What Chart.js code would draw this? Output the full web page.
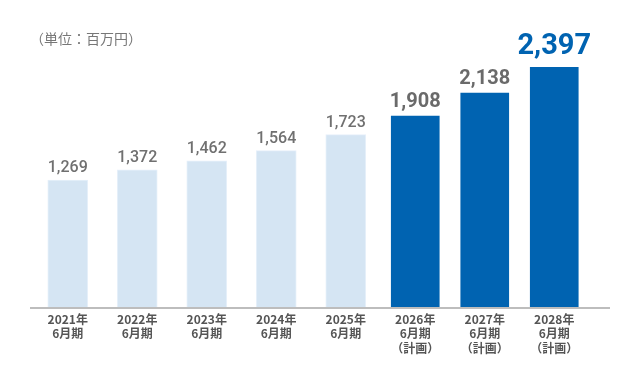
<!DOCTYPE html>
<html>
<head>
<meta charset="utf-8">
<script src="https://cdn.jsdelivr.net/npm/chart.js@4"></script>
<style>
  html, body { margin: 0; padding: 0; background: #fff; }
  #wrap { position: relative; width: 640px; height: 380px; }
  #unit { position: absolute; left: 30px; top: 28px; font: 14px "Noto Sans CJK JP", sans-serif; color: #777; }
</style>
</head>
<body>
<div id="wrap">
  <canvas id="chart" width="640" height="380"></canvas>
  <div id="unit">（単位：百万円）</div>
</div>
<script>
const labels = [
    ['2021年', '6月期'],
    ['2022年', '6月期'],
    ['2023年', '6月期'],
    ['2024年', '6月期'],
    ['2025年', '6月期'],
    ['2026年', '6月期', '（計画）'],
    ['2027年', '6月期', '（計画）'],
    ['2028年', '6月期', '（計画）']
];
const actual = [1269, 1372, 1462, 1564, 1723, null, null, null];
const plan = [null, null, null, null, null, 1908, 2138, 2397];

const lightBlue = '#d5e5f3';
const darkBlue = '#0063b1';

// draws the value over every bar
const valueLabels = {
    id: 'valueLabels',
    afterDatasetsDraw(chart) {
        const ctx = chart.ctx;
        ctx.save();
        ctx.textAlign = 'center';
        ctx.textBaseline = 'bottom';
        chart.data.datasets.forEach((ds, di) => {
            const meta = chart.getDatasetMeta(di);
            meta.data.forEach((bar, i) => {
                const v = ds.data[i];
                if (v == null) return;
                const text = v.toLocaleString('en-US');
                if (di === 0) {
                    ctx.font = '500 16px Roboto';
                    ctx.fillStyle = '#707070';
                    ctx.fillText(text, bar.x, bar.y - 4);
                } else if (i === ds.data.length - 1) {
                    ctx.font = 'bold 29px Roboto';
                    ctx.fillStyle = darkBlue;
                    ctx.fillText(text, bar.x, bar.y - 6);
                } else {
                    ctx.font = 'bold 20px Roboto';
                    ctx.fillStyle = '#6a6a6a';
                    ctx.fillText(text, bar.x, bar.y - 4);
                }
            });
        });
        // base line across the full width
        const y = chart.scales.y.getPixelForValue(0);
        ctx.fillStyle = '#bdbdbd';
        ctx.fillRect(30, y, 580, 2);
        ctx.restore();
    }
};

new Chart(document.getElementById('chart'), {
    type: 'bar',
    data: {
        labels: labels,
        datasets: [{
            data: actual,
            backgroundColor: lightBlue,
            borderColor: '#e6f0fa',
            borderWidth: 1,
            barThickness: 40
        }, {
            data: plan,
            backgroundColor: darkBlue,
            borderWidth: 0,
            barThickness: 48
        }]
    },
    options: {
        responsive: false,
        animation: false,
        layout: { padding: { top: 27, left: 33, right: 51, bottom: 0 } },
        plugins: { legend: { display: false }, tooltip: { enabled: false } },
        scales: {
            x: {
                stacked: true,
                grid: { display: false },
                border: { display: false },
                ticks: {
                    color: '#555',
                    font: { family: 'Noto Sans CJK JP', size: 12, weight: 'bold', lineHeight: 1.2 },
                    padding: -3,
                    maxRotation: 0,
                    autoSkip: false
                },
                afterFit(scale) { scale.height = 73; }
            },
            y: {
                display: false,
                min: 0,
                max: 2800
            }
        }
    },
    plugins: [valueLabels]
});
</script>
</body>
</html>
